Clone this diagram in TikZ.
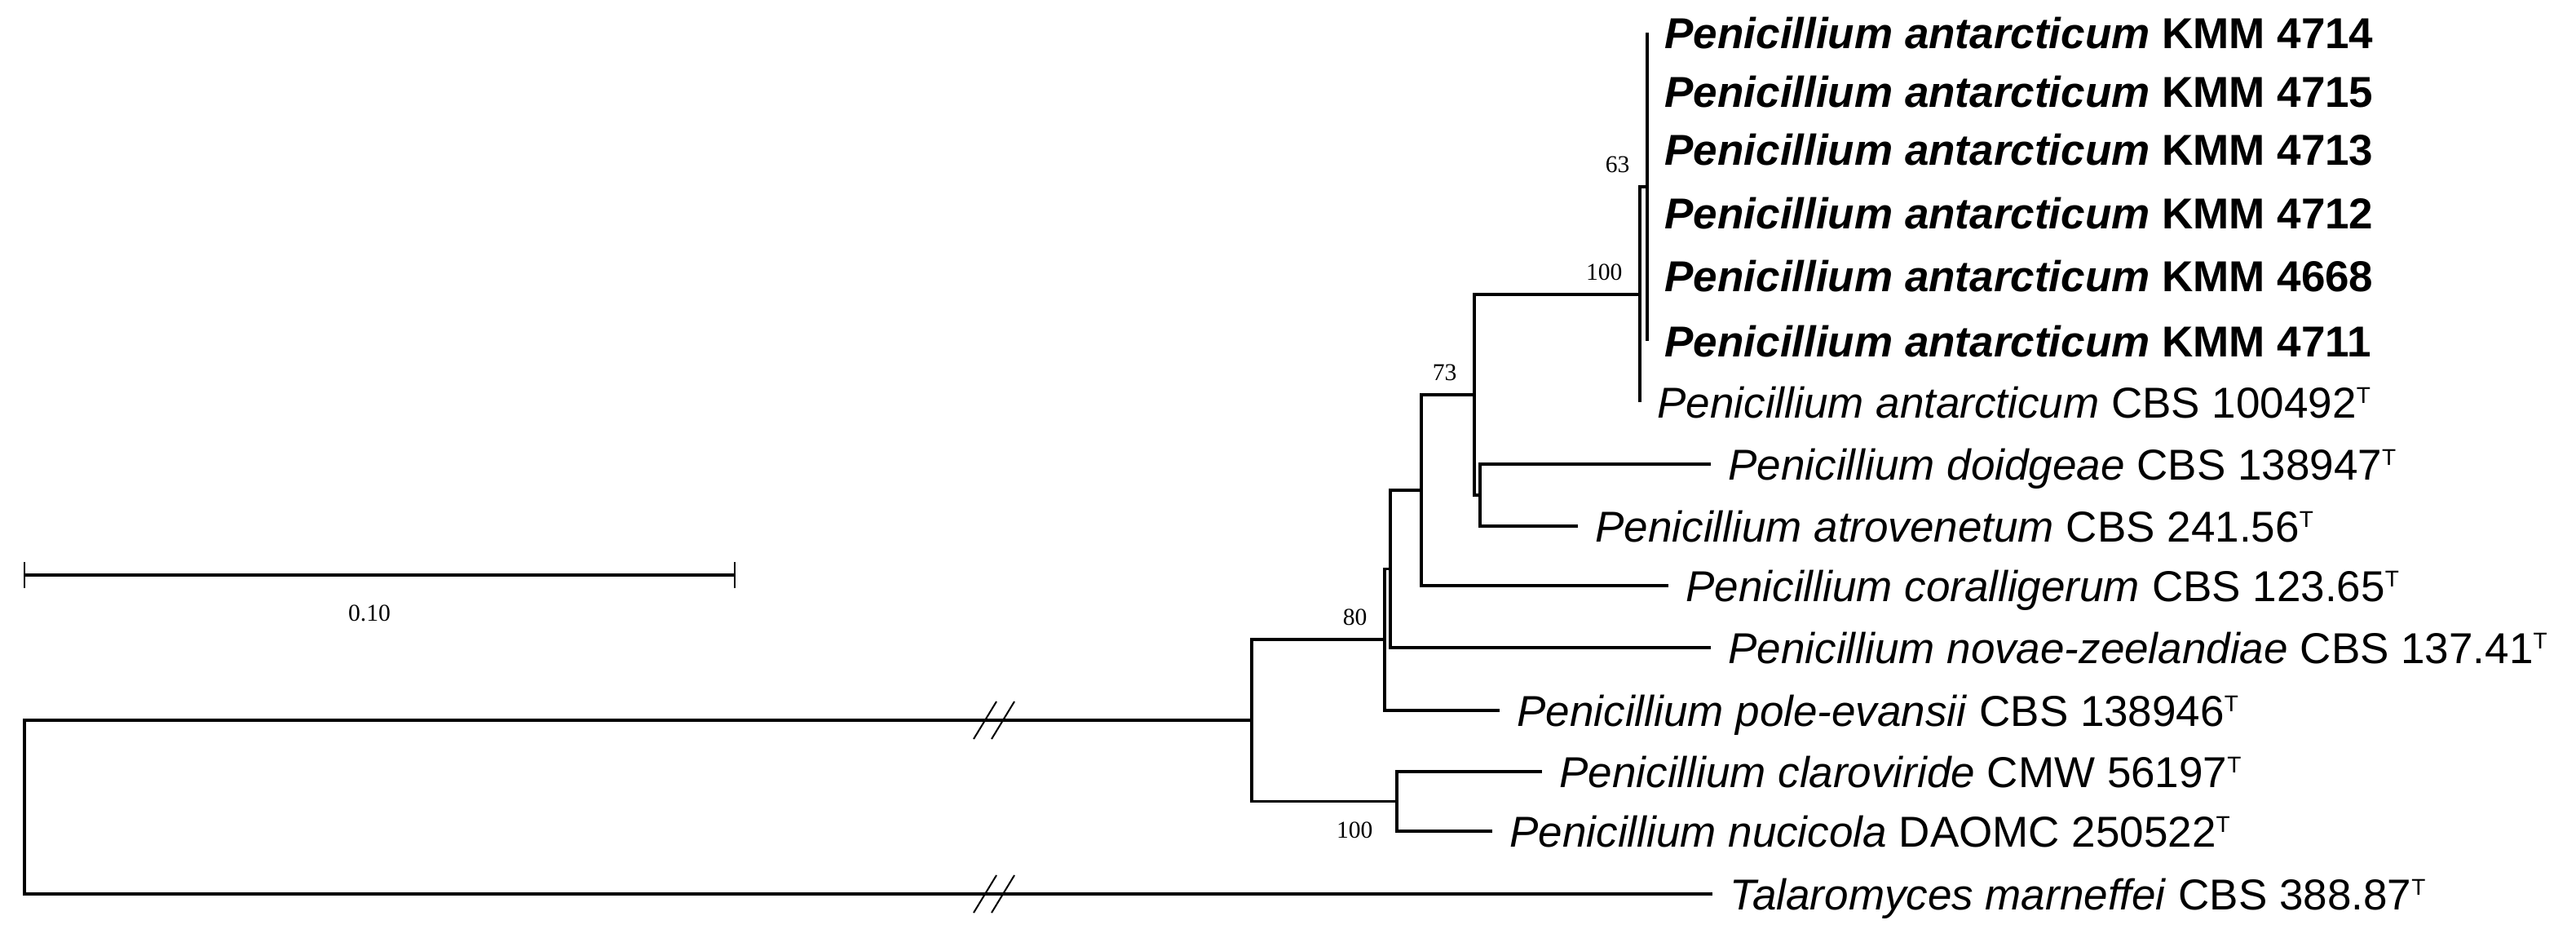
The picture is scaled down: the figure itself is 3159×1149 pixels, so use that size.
\documentclass[tikz,border=0pt]{standalone}
\usepackage{fontspec}
\setmainfont{Liberation Sans}
\newfontfamily\bootfont{Liberation Serif}
\usetikzlibrary{positioning}

\newcommand{\typeT}{\raisebox{4.5pt}{\fontsize{7}{7}\selectfont T}}

\begin{document}
\begin{tikzpicture}[x=0.25pt,y=-0.25pt,line width=0.8pt,
    taxon/.style={anchor=west,inner xsep=5pt,inner ysep=0pt,text height=9.5pt,
                  text depth=0pt,font=\fontsize{13.25}{15}\selectfont},
    boot/.style={inner sep=0pt,font=\bootfont\fontsize{7.4}{8}\selectfont},
    brk/.style={line width=0.5pt}]
    \useasboundingbox (0,0) rectangle (3159,1149);
    % nodi interni
    \coordinate (nG) at (2020,229);   % 63
    \coordinate (nF) at (2011,361);   % 100
    \coordinate (nE) at (1815,607);
    \coordinate (nD) at (1808,484);   % 73
    \coordinate (nC) at (1743,601);
    \coordinate (nBp) at (1705,697.5);
    \coordinate (nB) at (1698,784);   % 80
    \coordinate (nH) at (1713,982.5); % 100
    \coordinate (nA) at (1535,883);
    \coordinate (root) at (30,989.5);
    % foglie
    \node[taxon] (k4714) at (2020,40) {\textbf{\textit{Penicillium antarcticum} KMM 4714}};
    \node[taxon] (k4715) at (2020,112) {\textbf{\textit{Penicillium antarcticum} KMM 4715}};
    \node[taxon] (k4713) at (2020,183) {\textbf{\textit{Penicillium antarcticum} KMM 4713}};
    \node[taxon] (k4712) at (2020,261) {\textbf{\textit{Penicillium antarcticum} KMM 4712}};
    \node[taxon] (k4668) at (2020,338) {\textbf{\textit{Penicillium antarcticum} KMM 4668}};
    \node[taxon] (k4711) at (2020,418) {\textbf{\textit{Penicillium antarcticum} KMM 4711}};
    \node[taxon] (antarc) at (2011,493) {\textit{Penicillium antarcticum} CBS 100492\typeT};
    \node[taxon] (doidg) at (2098,569) {\textit{Penicillium doidgeae} CBS 138947\typeT};
    \node[taxon] (atrov) at (1935,645) {\textit{Penicillium atrovenetum} CBS 241.56\typeT};
    \node[taxon] (coral) at (2046,718) {\textit{Penicillium coralligerum} CBS 123.65\typeT};
    \node[taxon] (novae) at (2098,794) {\textit{Penicillium novae-zeelandiae} CBS 137.41\typeT};
    \node[taxon] (polev) at (1839,871) {\textit{Penicillium pole-evansii} CBS 138946\typeT};
    \node[taxon] (clarov) at (1891,946) {\textit{Penicillium claroviride} CMW 56197\typeT};
    \node[taxon] (nucic) at (1830,1019) {\textit{Penicillium nucicola} DAOMC 250522\typeT};
    \node[taxon] (talar) at (2100,1096) {\textit{Talaromyces marneffei} CBS 388.87\typeT};
    % rami
    \draw (k4714.west) -- (k4711.west); %clade KMM
    \draw (nF) |- (nG);
    \draw (nF) -- (antarc.west);
    \draw (nD) |- (nF);
    \draw (nD) |- (nE);
    \draw (nE) |- (doidg.west);
    \draw (nE) |- (atrov.west);
    \draw (nC) |- (nD);
    \draw (nC) |- (coral.west);
    \draw (nBp) |- (nC);
    \draw (nBp) |- (novae.west);
    \draw (nB) |- (nBp);
    \draw (nB) |- (polev.west);
    \draw (nH) |- (clarov.west);
    \draw (nH) |- (nucic.west);
    \draw (nA) |- (nB);
    \draw (nA) |- (nH);
    \draw (root) |- (nA);
    \draw (root) |- (talar.west);
    % interruzioni //
    \coordinate (brkA) at (1208,883);
    \coordinate (brkT) at (1208,1096);
    \draw[brk] ([shift={(-14,23)}]brkA) -- ([shift={(14,-23)}]brkA);
    \draw[brk] ([shift={(8,23)}]brkA) -- ([shift={(36,-23)}]brkA);
    \draw[brk] ([shift={(-14,23)}]brkT) -- ([shift={(14,-23)}]brkT);
    \draw[brk] ([shift={(8,23)}]brkT) -- ([shift={(36,-23)}]brkT);
    % valori di bootstrap
    \node[boot,above left=4pt and 5pt of nG] (bG) {63};
    \node[boot,above left=4pt and 5pt of nF] (bF) {100};
    \node[boot,above left=4pt and 5pt of nD] (bD) {73};
    \node[boot,above left=4pt and 5pt of nB] (bB) {80};
    \node[boot,below left=6pt and 7pt of nH] (bH) {100};
    % barra di scala
    \coordinate (sbL) at (30,705);
    \coordinate (sbR) at (901,705);
    \draw (sbL) -- (sbR);
    \draw[brk] ([yshift=4pt]sbL) -- ([yshift=-4pt]sbL);
    \draw[brk] ([yshift=4pt]sbR) -- ([yshift=-4pt]sbR);
    \node[boot] (sblab) at (453,752) {0.10};
\end{tikzpicture}
\end{document}
